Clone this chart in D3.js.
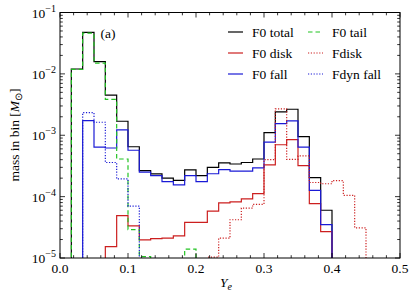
<!DOCTYPE html>
<html><head><meta charset="utf-8">
<script src="https://cdn.jsdelivr.net/npm/d3@7"></script>
<style>
html,body{margin:0;padding:0;background:#fff;}
</style></head>
<body><svg id="c" width="415" height="302"></svg>
<script>
// Bin edges: 30 bins of width 1/60 from 0 to 0.5
const nBins = 30;
const binWidth = 1/60;
// Values per bin (mass in bin, M_sun); 0 = empty
const f0Total   = [0,0.012,0.0475,0.0158,0.0045,0.00169,6.5e-4,2.65e-4,2.35e-4,2.0e-4,1.84e-4,2.72e-4,2.2e-4,3.0e-4,3.55e-4,3.4e-4,3.6e-4,4.1e-4,1.1e-3,2.4e-3,2.65e-3,9.5e-4,2.04e-4,6e-5,0,0,0,0,0,0];
const f0Disk    = [0,0,0,0,1.53e-5,4.9e-5,3.33e-5,1.97e-5,2.07e-5,2.1e-5,2.3e-5,3.8e-5,3.8e-5,5.8e-5,7.9e-5,8.2e-5,9.2e-5,1.12e-4,3.3e-4,7.0e-4,8.5e-4,3.2e-4,7.7e-5,2.7e-5,0,0,0,0,0,0];
const f0Fall    = [0,0,1.73e-3,6.4e-4,6.2e-4,1.22e-3,5.7e-4,2.5e-4,2.2e-4,1.75e-4,1.55e-4,2.2e-4,1.75e-4,2.36e-4,2.75e-4,2.6e-4,2.6e-4,2.95e-4,7.7e-4,1.55e-3,1.71e-3,6.4e-4,1.26e-4,3.5e-5,0,0,0,0,0,0];
const f0Tail    = [0,0.0118,0.046,0.015,3.85e-3,4.1e-4,2.9e-5,1.05e-5,0,0,0,1.4e-5,0,0,0,0,0,0,0,0,0,0,0,0,0,0,0,0,0,0];
const fDisk     = [0,0,0,0,0,0,0,0,0,0,0,0,0,1.03e-5,2.1e-5,4.2e-5,6.5e-5,7.5e-5,4.0e-4,2.7e-3,4.05e-4,4.6e-4,1.7e-4,1.62e-4,1.82e-4,1.05e-4,3.1e-5,0,0,0];
const fDynFall  = [0,0,2.33e-3,1.63e-3,3.6e-4,1.95e-4,7.0e-5,0,0,0,0,0,0,0,0,0,0,0,0,0,0,0,0,0,0,0,0,0,0,0];

const seriesNames = ["F0 total","F0 disk","F0 fall","F0 tail","Fdisk","Fdyn fall"];
const xTicks = [0,0.1,0.2,0.3,0.4,0.5];
const xTickLabels = ["0.0","0.1","0.2","0.3","0.4","0.5"];
const yTickExps = [-1,-2,-3,-4,-5];

const series = [
  {name:seriesNames[0], values:f0Total,  color:"#000000", dash:null},
  {name:seriesNames[1], values:f0Disk,   color:"#cc1f1f", dash:null},
  {name:seriesNames[2], values:f0Fall,   color:"#1a1ad6", dash:null},
  {name:seriesNames[3], values:f0Tail,   color:"#22c322", dash:"4.5,3"},
  {name:seriesNames[4], values:fDisk,    color:"#cc1f1f", dash:"1.2,1.6"},
  {name:seriesNames[5], values:fDynFall, color:"#1a1ad6", dash:"1.2,1.6"}
];

const FONT = "Liberation Serif";
const svg = d3.select("#c");
const L=60, R=400, T=12.5, B=258;
const x = d3.scaleLinear().domain([0,0.5]).range([L,R]);
const y = d3.scaleLog().domain([1e-5,1e-1]).range([B,T]);

svg.append("defs").append("clipPath").attr("id","clip")
  .append("rect").attr("x",L).attr("y",T).attr("width",R-L).attr("height",B-T);

const floor = 1e-7;
function stepPoints(vals){
  const pts=[];
  pts.push([0, floor]);
  vals.forEach((v,i)=>{
    const vv = v>0? v: floor;
    pts.push([i*binWidth, vv]);
    pts.push([(i+1)*binWidth, vv]);
  });
  pts.push([nBins*binWidth, floor]);
  return pts;
}
const line = d3.line().x(d=>x(d[0])).y(d=>y(d[1]));
const g = svg.append("g").attr("clip-path","url(#clip)");
series.forEach(s=>{
  g.append("path").attr("d", line(stepPoints(s.values)))
   .attr("fill","none").attr("stroke",s.color).attr("stroke-width",1.2)
   .attr("stroke-dasharray", s.dash)
   .attr("stroke-linejoin","miter");
});

// Axes frame
svg.append("rect").attr("x",L).attr("y",T).attr("width",R-L).attr("height",B-T)
  .attr("fill","none").attr("stroke","#000").attr("stroke-width",1);

// X ticks (inward, bottom and top)
const xMinor = d3.range(0,0.5001,0.02);
const tk = svg.append("g").attr("stroke","#000").attr("stroke-width",0.8);
xMinor.forEach(t=>{
  const isMaj = Math.abs(t*10-Math.round(t*10))<1e-6;
  const len = isMaj?5:2.8;
  tk.append("line").attr("x1",x(t)).attr("x2",x(t)).attr("y1",B).attr("y2",B-len);
  tk.append("line").attr("x1",x(t)).attr("x2",x(t)).attr("y1",T).attr("y2",T+len);
});
// Y ticks
for(let e=-5;e<=-1;e++){
  [1,2,3,4,5,6,7,8,9].forEach(m=>{
    const v=m*Math.pow(10,e);
    if(v>0.1+1e-12) return;
    const len = m===1?5:2.8;
    tk.append("line").attr("x1",L).attr("x2",L+len).attr("y1",y(v)).attr("y2",y(v));
    tk.append("line").attr("x1",R).attr("x2",R-len).attr("y1",y(v)).attr("y2",y(v));
  });
}

function txt(sel){ return sel.append("text").style("font-family",FONT).attr("fill","#000"); }

// X tick labels
xTicks.forEach((t,i)=>{
  txt(svg).attr("x",x(t)).attr("y",B+15).attr("text-anchor","middle")
    .attr("font-size",13.5).text(xTickLabels[i]);
});
// Y tick labels
yTickExps.forEach(e=>{
  const t = txt(svg).attr("x",L-4).attr("y",y(Math.pow(10,e))+5)
    .attr("text-anchor","end").attr("font-size",13.5);
  t.append("tspan").text("10");
  t.append("tspan").attr("dy",-6).attr("font-size",10).text("\u2212"+Math.abs(e));
});

// Axis titles
const xl = txt(svg).attr("x",226).attr("y",287).attr("text-anchor","middle").attr("font-size",13.5);
xl.append("tspan").style("font-style","italic").text("Y");
xl.append("tspan").style("font-style","italic").attr("font-size",10).attr("dy",2.5).text("e");

const yl = txt(svg).attr("transform","translate(19,135) rotate(-90)")
  .attr("text-anchor","middle").attr("font-size",13.5);
yl.append("tspan").text("mass in bin [");
yl.append("tspan").style("font-style","italic").text("M");
yl.append("tspan").attr("font-size",10).attr("dy",2.5).text("\u2299");
yl.append("tspan").attr("dy",-2.5).text("]");

// Panel label
txt(svg).attr("x",108).attr("y",38).attr("text-anchor","middle").attr("font-size",13.5).text("(a)");

// Legend: two columns, column-major
const legPos = [[228,32],[228,53],[228,74],[308,32],[308,53],[308,74]];
series.forEach((s,i)=>{
  const [lx,ly]=legPos[i];
  svg.append("line").attr("x1",lx).attr("x2",lx+15).attr("y1",ly).attr("y2",ly)
    .attr("stroke",s.color).attr("stroke-width",1.2).attr("stroke-dasharray",s.dash);
  txt(svg).attr("x",lx+24).attr("y",ly+4.5).attr("font-size",13.5).text(s.name);
});
</script></body></html>
